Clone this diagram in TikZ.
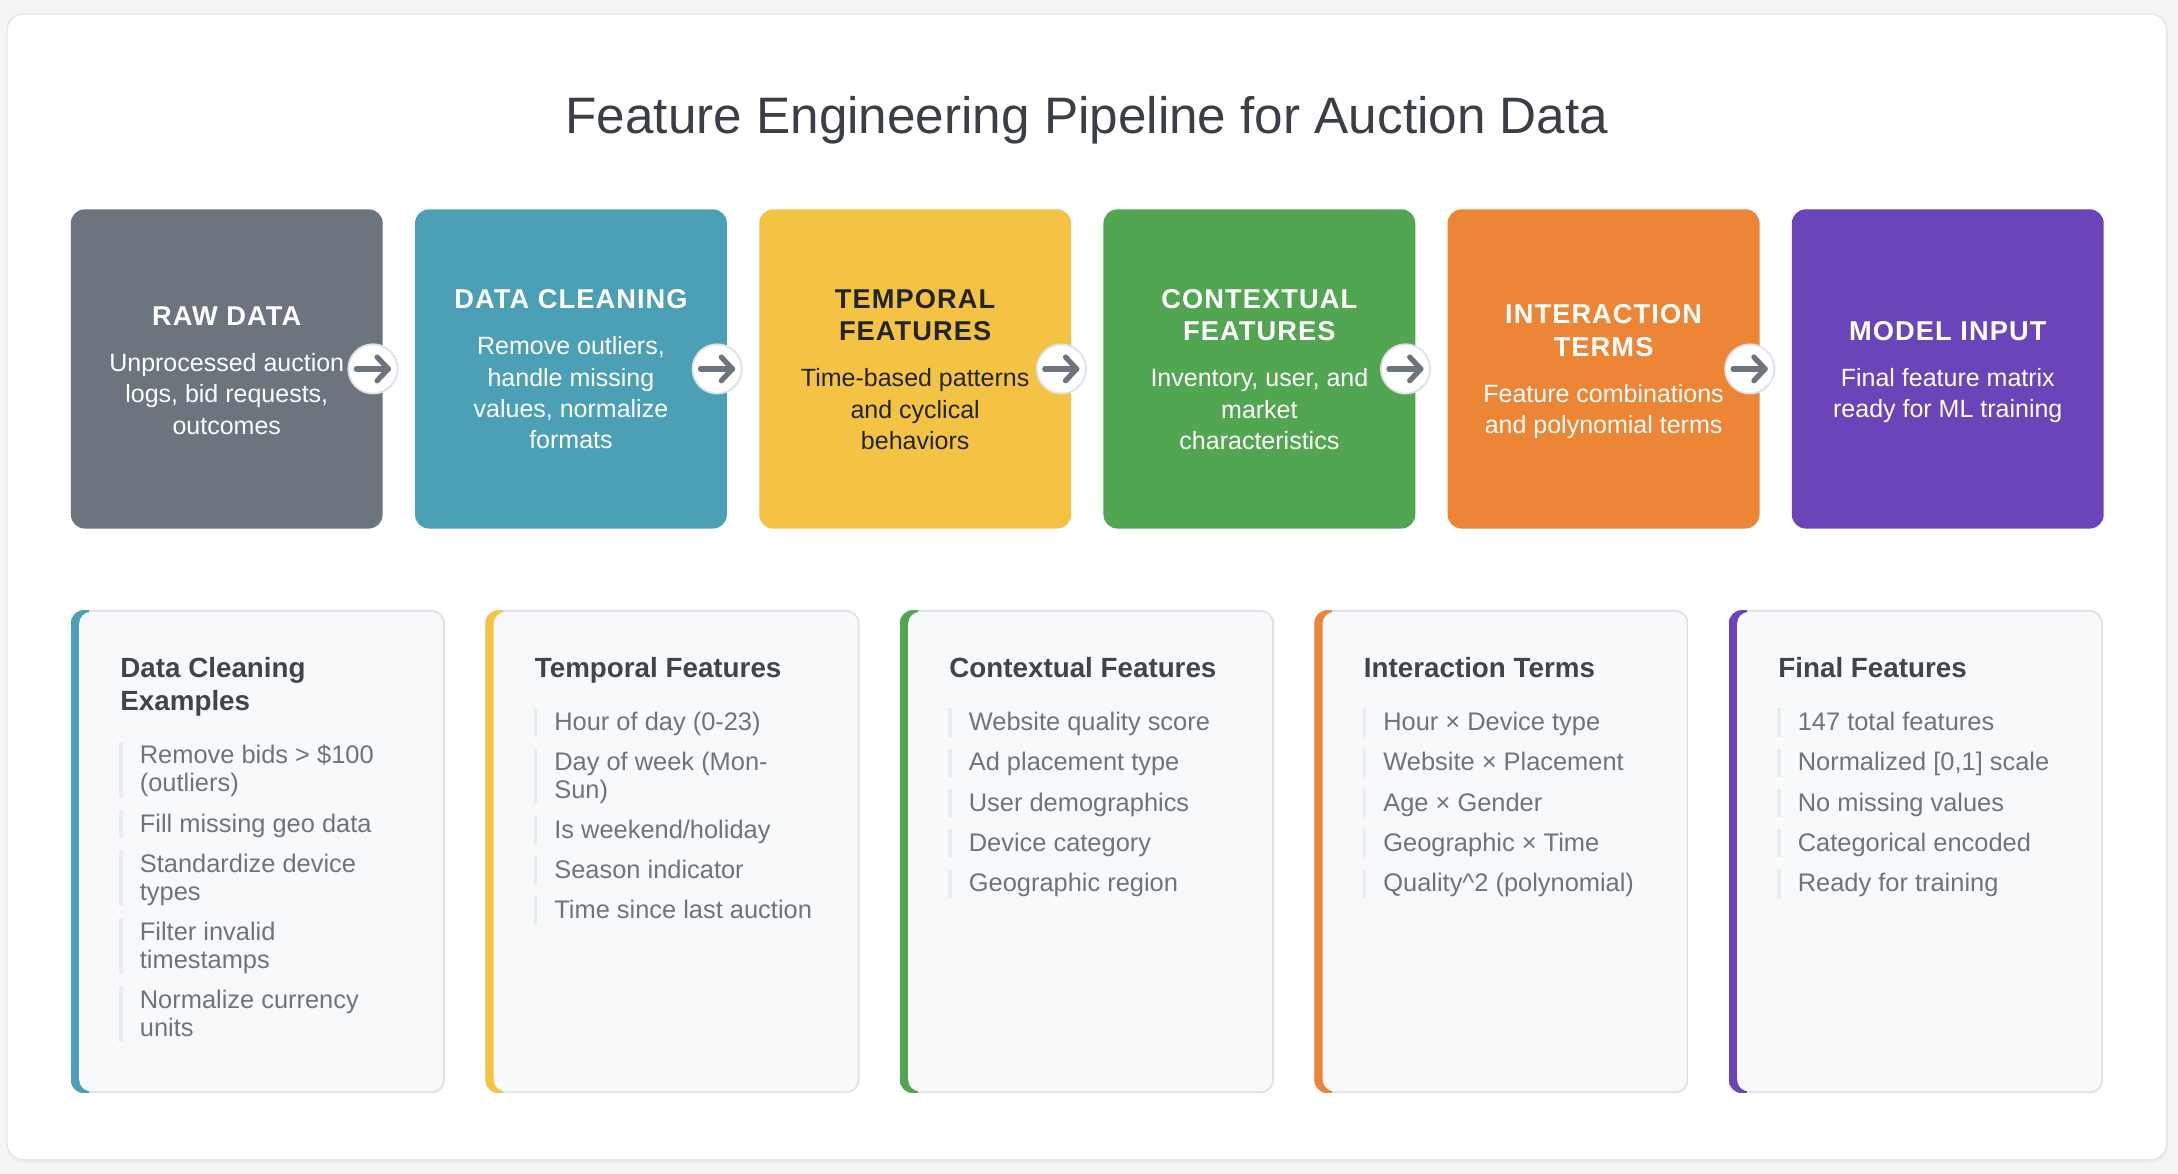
\documentclass[tikz,border=0pt]{standalone}
\usepackage{fontspec}
\setmainfont{Liberation Sans}
\newfontfamily\capsfont[LetterSpace=4]{Liberation Sans}
\usetikzlibrary{calc}
\definecolor{pagebg}{HTML}{F3F4F6}
\definecolor{cardedge}{HTML}{E3E5E9}
\definecolor{cgray}{HTML}{6C757D}
\definecolor{cteal}{HTML}{4BA0B5}
\definecolor{cyellow}{HTML}{F5C344}
\definecolor{cgreen}{HTML}{53A651}
\definecolor{corange}{HTML}{ED8536}
\definecolor{cpurple}{HTML}{6A44B8}
\definecolor{darktxt}{HTML}{212529}
\definecolor{titletxt}{HTML}{3A3F45}
\definecolor{headtxt}{HTML}{3F454C}
\definecolor{itemtxt}{HTML}{6C757D}
\definecolor{panelfill}{HTML}{F8F9FA}
\definecolor{paneledge}{HTML}{DEE2E6}
\definecolor{barc}{HTML}{E9ECEF}
\tikzset{
  stepbox/.style={rectangle, rounded corners=10pt, draw=none, minimum width=224.5pt, minimum height=229.8pt, inner sep=0pt},
  btitle/.style={anchor=base, inner sep=0pt, font=\capsfont\bfseries\fontsize{19.6}{23}\selectfont},
  bdesc/.style={anchor=base, inner sep=0pt, font=\fontsize{18}{22}\selectfont},
  badge/.style={circle, fill=white, draw=paneledge, line width=1.3pt, minimum size=35.5pt, inner sep=0pt},
  glyph/.style={draw=cgray, line width=3.8pt, line cap=round, line join=round},
  ptitle/.style={anchor=base west, inner sep=0pt, text=headtxt, font=\bfseries\fontsize{20}{24}\selectfont},
  pitem/.style={anchor=base west, inner sep=0pt, text=itemtxt, font=\fontsize{18.3}{20}\selectfont},
  pbar/.style={fill=barc, draw=none}
}
\begin{document}
\begin{tikzpicture}[x=1pt, y=-1pt]
\useasboundingbox (0,0) rectangle (1568,845);
\fill[pagebg] (0,0) rectangle (1568,845);
% outer card
\fill[black!7, rounded corners=12pt] (5,11.5) rectangle (1560.5,837);
\filldraw[fill=white, draw=cardedge, line width=1pt, rounded corners=12pt] (5,10) rectangle (1560,835);

% title
\node[anchor=base, inner sep=0pt, text=titletxt, font=\fontsize{36.9}{40}\selectfont] (title) at (782.5,96) {Feature Engineering Pipeline for Auction Data};

% top pipeline boxes
\node[stepbox, fill=cgray]   (b1) at (163.25,265.6) {};
\node[stepbox, fill=cteal]   (b2) at (411.05,265.6) {};
\node[stepbox, fill=cyellow] (b3) at (658.85,265.6) {};
\node[stepbox, fill=cgreen]  (b4) at (906.65,265.6) {};
\node[stepbox, fill=corange] (b5) at (1154.45,265.6) {};
\node[stepbox, fill=cpurple] (b6) at (1402.25,265.6) {};

% box texts
\node[btitle, text=white] (t1) at (163.25,234) {RAW DATA};
\foreach \t/\yy [count=\i] in {Unprocessed auction/267.5, {logs, bid requests,}/290, outcomes/312.5}
  \node[bdesc, text=white] (d1-\i) at (163.25,\yy) {\t};

\node[btitle, text=white] (t2) at (411.05,222) {DATA CLEANING};
\foreach \t/\yy [count=\i] in {{Remove outliers,}/255.5, handle missing/278, {values, normalize}/300.5, formats/323}
  \node[bdesc, text=white] (d2-\i) at (411.05,\yy) {\t};

\node[btitle, text=darktxt] (t3a) at (658.85,222) {TEMPORAL};
\node[btitle, text=darktxt] (t3b) at (658.85,245.3) {FEATURES};
\foreach \t/\yy [count=\i] in {Time-based patterns/278.6, and cyclical/301.1, behaviors/323.6}
  \node[bdesc, text=darktxt] (d3-\i) at (658.85,\yy) {\t};

\node[btitle, text=white] (t4a) at (906.65,222) {CONTEXTUAL};
\node[btitle, text=white] (t4b) at (906.65,245.3) {FEATURES};
\foreach \t/\yy [count=\i] in {{Inventory, user, and}/278.6, market/301.1, characteristics/323.6}
  \node[bdesc, text=white] (d4-\i) at (906.65,\yy) {\t};

\node[btitle, text=white] (t5a) at (1154.45,233) {INTERACTION};
\node[btitle, text=white] (t5b) at (1154.45,256.3) {TERMS};
\foreach \t/\yy [count=\i] in {Feature combinations/289.7, and polynomial terms/312.2}
  \node[bdesc, text=white] (d5-\i) at (1154.45,\yy) {\t};

\node[btitle, text=white] (t6) at (1402.25,245) {MODEL INPUT};
\foreach \t/\yy [count=\i] in {Final feature matrix/278.4, ready for ML training/300.9}
  \node[bdesc, text=white] (d6-\i) at (1402.25,\yy) {\t};

% arrow badges between the boxes
\foreach \k/\xx in {1/268.5, 2/516.3, 3/764.1, 4/1011.9, 5/1259.7} {
  \node[badge] (a\k) at (\xx,265.6) {};
  \draw[glyph] ([shift={(-12,0)}]a\k.center) -- ([shift={(11,0)}]a\k.center);
  \draw[glyph] ([shift={(3,-8.5)}]a\k.center) -- ([shift={(11,0)}]a\k.center) -- ([shift={(3,8.5)}]a\k.center);
}

% bottom panels
\foreach \L/\C in {51/cteal, 349.4/cyellow, 647.8/cgreen, 946.2/corange, 1244.6/cpurple} {
  \begin{scope}
    \clip[rounded corners=9.5pt] (\L,439.2) rectangle (\L+269.4,787);
    \fill[paneledge] (\L,439.2) rectangle (\L+269.4,787);
    \fill[\C] (\L,439.2) rectangle (\L+13,787);
    \fill[panelfill, rounded corners=8.5pt] (\L+6,440.5) rectangle (\L+268.1,785.7);
  \end{scope}
}

% panel 1
\node[ptitle] (p1t1) at (86.5,487.6) {Data Cleaning};
\node[ptitle] (p1t2) at (86.5,511.6) {Examples};
\foreach \ya/\yb in {550/570, 599/599, 628/648, 677/697, 726/746}
  \fill[pbar] (86,\ya-16) rectangle (88.5,\yb+4.3);
\foreach \t/\yy [count=\i] in {{Remove bids > \$100}/550, (outliers)/570, Fill missing geo data/599, Standardize device/628, types/648, Filter invalid/677, timestamps/697, Normalize currency/726, units/746}
  \node[pitem] (p1-\i) at (100.5,\yy) {\t};

% panel 2
\node[ptitle] (p2t) at (384.9,487.6) {Temporal Features};
\foreach \ya/\yb in {526/526, 555/574.8, 603.8/603.8, 632.6/632.6, 661.4/661.4}
  \fill[pbar] (384.4,\ya-16) rectangle (386.9,\yb+4.3);
\foreach \t/\yy [count=\i] in {Hour of day (0-23)/526, Day of week (Mon-/555, Sun)/574.8, {Is weekend/holiday}/603.8, Season indicator/632.6, Time since last auction/661.4}
  \node[pitem] (p2-\i) at (398.9,\yy) {\t};

% panel 3
\node[ptitle] (p3t) at (683.3,487.6) {Contextual Features};
\foreach \t/\yy [count=\i] in {Website quality score/526, Ad placement type/555, User demographics/584, Device category/613, Geographic region/642} {
  \fill[pbar] (682.8,\yy-16) rectangle (685.3,\yy+4.3);
  \node[pitem] (p3-\i) at (697.3,\yy) {\t};
}

% panel 4
\node[ptitle] (p4t) at (981.7,487.6) {Interaction Terms};
\foreach \t/\yy [count=\i] in {Hour × Device type/526, Website × Placement/555, Age × Gender/584, Geographic × Time/613, Quality\textasciicircum 2 (polynomial)/642} {
  \fill[pbar] (981.2,\yy-16) rectangle (983.7,\yy+4.3);
  \node[pitem] (p4-\i) at (995.7,\yy) {\t};
}

% panel 5
\node[ptitle] (p5t) at (1280.1,487.6) {Final Features};
\foreach \t/\yy [count=\i] in {147 total features/526, {Normalized [0,1] scale}/555, No missing values/584, Categorical encoded/613, Ready for training/642} {
  \fill[pbar] (1279.6,\yy-16) rectangle (1282.1,\yy+4.3);
  \node[pitem] (p5-\i) at (1294.1,\yy) {\t};
}
\end{tikzpicture}
\end{document}
